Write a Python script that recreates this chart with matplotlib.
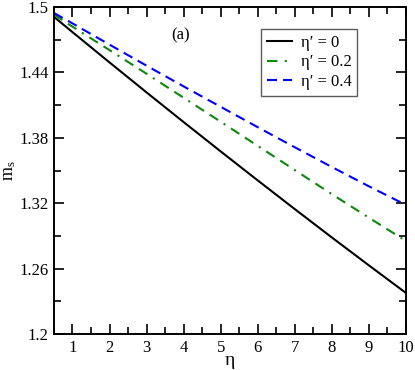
import numpy as np
import matplotlib
matplotlib.use('Agg')
import matplotlib.pyplot as plt
from matplotlib.ticker import MultipleLocator

# data
eta = [0.5, 1, 2, 3, 4, 5, 6, 7, 8, 9, 10]
ms_0 = [1.491, 1.477, 1.4492, 1.4217, 1.3945, 1.3676, 1.3410, 1.3147, 1.2887, 1.2631, 1.2378]
ms_02 = [1.493, 1.482, 1.4605, 1.4388, 1.4168, 1.3948, 1.3727, 1.3505, 1.3284, 1.3068, 1.2855]
ms_04 = [1.4945, 1.485, 1.4655, 1.4462, 1.4272, 1.4085, 1.3898, 1.3714, 1.3533, 1.3356, 1.3185]
labels = ["η′ = 0", "η′ = 0.2", "η′ = 0.4"]

plt.rcParams['font.family'] = ['Liberation Serif', 'DejaVu Serif']
plt.rcParams['mathtext.fontset'] = 'stix'

fig = plt.figure(figsize=(4.15, 3.7), dpi=100)
ax = fig.add_axes([0.130, 0.097, 0.848, 0.884])

ax.plot(eta, ms_0, color='black', lw=1.5, ls='-', label=labels[0])
ax.plot(eta, ms_02, color='#0a8a0a', lw=1.5, dashes=(4.8, 3.2, 4.8, 3.2, 1, 3.2), label=labels[1])
ax.plot(eta, ms_04, color='#0000ff', lw=1.5, dashes=(4.8, 2.9), label=labels[2])

ax.set_xlim(0.5, 10)
ax.set_ylim(1.2, 1.5)
ax.xaxis.set_minor_locator(MultipleLocator(0.5))
ax.yaxis.set_minor_locator(MultipleLocator(0.03))
ax.set_yticks([1.2, 1.26, 1.32, 1.38, 1.44, 1.5])
ax.set_yticklabels(['1.2', '1.26', '1.32', '1.38', '1.44', '1.5'])
ax.set_xticks([1, 2, 3, 4, 5, 6, 7, 8, 9, 10])
ax.tick_params(which='both', direction='in', top=True, right=True, labelsize=12, width=1.2)
ax.tick_params(which='major', length=7, pad=4)
ax.tick_params(which='minor', length=5)
for s in ax.spines.values():
    s.set_linewidth(1.4)

ax.set_xlabel('η', fontsize=14)
ax.xaxis.set_label_coords(0.5, -0.056)
ax.set_ylabel(r'm$_\mathregular{s}$', fontsize=13)
ax.yaxis.set_label_coords(-0.103, 0.5)

ax.text(3.93, 1.474, '(a)', fontsize=12, ha='center', va='center')

leg = ax.legend(loc='upper right', bbox_to_anchor=(0.862, 0.932), borderaxespad=0,
                fontsize=12, frameon=True, fancybox=False, edgecolor='#333333',
                handlelength=1.5, handletextpad=0.5, borderpad=0.35, labelspacing=0.2)
leg.get_frame().set_linewidth(1.0)
leg.get_lines()[1].set_dashes((5, 3.5, 1, 3.5))

plt.savefig('out.png', dpi=100)
